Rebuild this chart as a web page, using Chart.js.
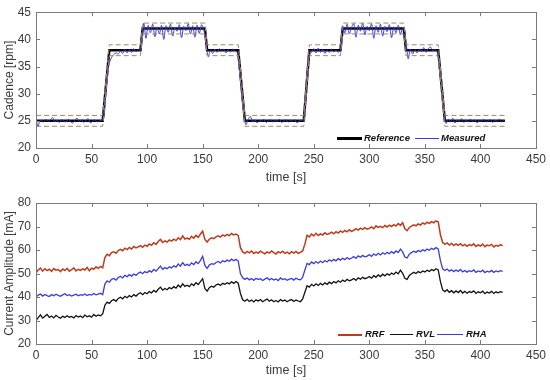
<!DOCTYPE html>
<html>
<head>
<meta charset="utf-8">
<script src="https://cdn.jsdelivr.net/npm/chart.js@4/dist/chart.umd.min.js"></script>
<style>
  html, body { margin: 0; padding: 0; background: #fff; }
  #wrap { position: relative; width: 550px; height: 380px; font-family: "Liberation Sans", Arial, sans-serif; }
  canvas { position: absolute; left: 0; }
  .legend { position: absolute; font: italic bold 9.5px "Liberation Sans", Arial, sans-serif; color: #111; white-space: nowrap; }
  .legend span { position: absolute; top: 0; }
  .legend i { position: absolute; display: block; }
</style>
</head>
<body>
<div id="wrap">
  <canvas id="c1" width="550" height="190" style="top:0"></canvas>
  <canvas id="c2" width="550" height="190" style="top:190px"></canvas>
  <div class="legend" id="leg1" style="left:0; top:132px; width:550px; height:13px;">
    <i style="left:337px; top:5px; width:25px; height:3px; background:#000;"></i>
    <span style="left:364px;">Reference</span>
    <i style="left:415px; top:6px; width:24px; height:1px; background:#3b3bdc;"></i>
    <span style="left:441px;">Measured</span>
  </div>
  <div class="legend" id="leg2" style="left:0; top:328px; width:550px; height:13px;">
    <i style="left:338px; top:6px; width:24px; height:1.5px; background:#c0391b;"></i>
    <span style="left:365px;">RRF</span>
    <i style="left:390px; top:6px; width:23px; height:1px; background:#111;"></i>
    <span style="left:416px;">RVL</span>
    <i style="left:437px; top:6px; width:26px; height:1px; background:#3b3bdc;"></i>
    <span style="left:466px;">RHA</span>
  </div>
</div>
<script>
// ---------- Top chart data (Cadence) ----------
const refTime  = [0, 60, 66, 94, 96, 152, 154, 182, 188, 241, 246, 274, 276, 331, 333, 362, 368, 422];
const refValue = [25, 25, 38, 38, 42, 42, 38, 38, 25, 25, 38, 38, 42, 42, 38, 38, 25, 25];
const bandUpper = [26, 26, 39, 39, 43, 43, 39, 39, 26, 26, 39, 39, 43, 43, 39, 39, 26, 26];
const bandLower = [24, 24, 37, 37, 41, 41, 37, 37, 24, 24, 37, 37, 41, 41, 37, 37, 24, 24];

const measTime = [0,1,2,3,5,7,9,11,13,15,17,19,21,23,25,27,29,31,33,35,37,39,41,43,45,47,49,51,53,55,57,59,61,
  62,63,64,65,66,68,70,72,74,76,78,80,82,84,86,88,90,92,94,95,96,97,98,99,101,103,105,107,109,111,113,115,117,119,
  121,123,125,127,129,131,133,135,137,139,141,143,145,147,149,151,153,155,157,159,161,163,165,167,169,171,173,175,177,179,181,
  183,185,187,189,191,193,195,197,199,201,203,205,207,209,211,213,215,217,219,221,223,225,227,229,231,233,235,237,239,241,
  242,243,244,245,246,248,250,252,254,256,258,260,262,264,266,268,270,272,274,275,276,278,280,282,284,286,288,290,292,294,
  296,298,300,302,304,306,308,310,312,314,316,318,320,322,324,326,328,330,332,333,334,335,337,339,341,343,345,347,349,351,
  353,355,357,359,361,363,365,367,369,371,373,375,377,379,381,383,385,387,389,391,393,395,397,399,401,403,405,407,409,411,
  413,415,417,419,421];
const measValue = [23.6,24.5,23.9,24.8,25.1,24.8,25.3,24.9,25.2,25.6,24.8,25.1,24.7,25.2,25.0,24.8,25.3,24.9,24.6,25.1,25.5,24.9,25.2,24.7,25.1,25.4,24.6,24.9,25.2,24.8,25.0,25.1,25.6,
  27.5,30.5,32.8,34.5,35.6,36.7,37.2,37.5,37.3,37.8,37.4,38.2,37.5,38.1,37.6,38.3,37.7,38.1,38.0,39.5,41.5,43.0,41.5,40.2,42.6,41.2,42.8,40.5,42.3,41.0,42.6,40.0,42.5,41.3,
  42.8,40.6,42.2,41.5,42.7,40.3,42.4,41.6,42.9,41.0,42.5,40.4,42.6,41.1,42.7,41.8,39.5,36.8,38.0,37.4,38.2,37.6,38.3,37.8,38.2,37.5,38.1,37.7,38.2,37.9,37.6,
  34.5,30.0,26.5,24.3,25.3,25.8,24.8,25.2,24.6,25.1,24.9,25.3,24.7,25.0,25.2,24.8,25.1,24.9,25.3,24.7,25.0,25.2,24.8,25.1,24.9,25.2,24.6,25.0,25.1,25.3,
  27.5,31.0,34.0,36.0,37.2,37.6,38.3,37.5,38.4,37.6,38.2,37.4,38.0,37.6,38.2,37.7,38.0,37.6,38.1,40.5,42.5,41.2,42.8,41.0,42.2,42.9,40.4,42.6,41.5,43.0,
  40.8,42.4,41.6,42.9,40.2,42.5,41.3,42.8,40.6,42.4,41.4,42.7,40.3,42.3,41.2,42.6,40.9,42.2,41.5,39.5,37.8,36.4,38.2,37.3,38.1,37.5,38.2,37.8,38.5,37.6,
  38.3,38.6,37.9,38.1,37.7,35.5,31.0,26.8,24.5,25.3,24.8,25.5,24.6,25.2,24.9,25.4,24.7,25.1,24.8,25.3,24.9,25.2,24.6,25.1,24.9,25.3,24.8,25.0,25.2,24.7,
  25.1,24.9,25.3,24.8,25.1];

// ---------- Bottom chart data (Current amplitude), sampled every 2 s from t = 0 ----------
const SAMPLE_STEP = 2;
const rrf = [50.2,51.5,52.3,51.0,52.0,51.2,51.8,50.9,52.1,51.4,51.7,50.8,51.9,51.3,52.2,51.0,51.6,52.4,51.1,51.8,51.3,52.0,51.5,52.6,51.2,52.3,51.8,52.9,52.1,53.0,52.4,
  56.8,58.2,57.6,58.9,59.2,58.6,59.8,60.3,59.7,60.8,60.2,61.1,60.4,61.5,60.9,61.3,61.9,61.2,62.1,61.6,62.6,62.0,63.1,62.4,63.6,64.5,63.2,63.9,63.4,64.3,
  63.8,64.6,64.0,65.2,64.4,66.0,64.7,65.1,64.6,65.8,65.0,66.2,65.4,66.8,68.0,64.5,63.4,64.6,65.2,64.8,65.6,66.0,65.5,66.4,65.9,66.6,66.1,67.0,66.4,66.8,66.2,
  61.0,59.2,58.6,59.4,58.8,59.6,58.5,59.1,58.7,59.5,58.9,58.4,59.2,58.7,59.6,58.9,58.3,59.3,58.8,59.5,58.6,59.1,58.4,59.3,58.7,59.4,58.6,59.0,59.6,
  62.5,66.3,65.6,66.8,66.0,67.1,66.2,66.9,66.4,67.3,66.6,67.0,67.6,66.9,67.8,67.2,68.1,67.5,68.3,67.7,68.6,67.9,68.4,69.1,68.5,69.3,68.8,69.5,68.9,69.2,
  69.8,69.1,70.3,69.6,70.1,69.5,70.4,69.8,70.6,70.0,70.8,70.2,71.3,70.5,71.6,69.0,68.2,69.6,70.2,70.7,70.3,71.1,70.6,71.5,71.0,71.8,71.3,72.1,71.6,72.4,72.0,
  66.5,63.2,62.4,63.0,62.1,62.8,61.9,62.6,62.0,62.7,61.8,62.4,61.6,62.3,61.9,62.6,61.5,62.2,61.7,62.5,61.4,62.1,61.8,62.4,61.3,62.0,61.6,62.3,61.8];
const rvl = [30.0,31.2,32.4,31.0,31.8,32.6,31.3,31.9,31.1,32.2,31.5,31.0,31.8,31.3,32.0,31.4,31.7,31.1,32.1,31.5,31.9,31.2,32.3,31.6,32.0,31.4,32.6,31.8,32.4,32.0,32.8,
  36.5,37.8,37.3,38.4,38.9,38.2,39.4,39.9,39.2,40.3,39.7,40.6,40.0,41.0,40.4,41.3,41.8,41.0,41.9,41.4,42.3,41.7,42.8,42.1,43.3,44.2,42.9,43.6,43.1,44.0,
  43.5,44.4,43.8,45.1,44.2,45.6,44.5,45.0,44.4,45.6,44.9,46.1,45.3,46.5,47.8,43.6,42.5,44.0,44.6,44.2,45.1,45.5,44.9,45.8,45.4,46.1,45.6,46.5,45.8,46.6,45.9,
  41.5,38.8,38.2,39.0,38.1,38.7,37.9,38.8,38.3,38.9,38.0,38.6,39.1,38.2,38.8,38.0,38.5,37.9,38.9,38.3,38.7,38.0,38.6,38.9,38.1,38.7,38.3,38.0,39.2,
  42.0,44.8,44.2,45.4,44.7,45.6,44.9,45.8,45.1,46.0,45.4,46.3,45.7,46.6,46.0,46.9,46.3,47.2,46.6,47.5,46.9,47.3,47.9,47.1,48.2,47.6,48.4,47.8,48.1,48.7,
  48.0,49.1,48.4,49.4,48.7,49.7,49.0,49.9,49.3,50.2,49.6,50.6,49.9,51.4,50.1,48.0,47.5,49.2,49.9,50.5,50.0,50.8,50.3,51.1,50.6,51.4,50.9,51.7,51.2,52.0,51.5,
  46.5,43.0,42.3,43.1,42.0,42.7,41.8,42.6,41.9,42.8,41.7,42.4,41.6,42.3,41.9,42.6,41.5,42.2,41.8,42.5,41.4,42.1,41.7,42.4,41.5,42.2,41.8,42.3,42.0];
const rha = [40.0,40.8,41.3,40.4,41.1,40.6,40.2,41.0,40.5,41.2,40.7,40.3,40.9,41.4,40.6,41.0,40.4,40.8,41.2,40.5,41.0,40.7,41.3,40.6,41.1,40.8,41.5,40.9,41.2,41.6,41.0,
  45.5,46.9,46.3,47.5,47.9,47.2,48.3,48.8,48.1,49.2,48.6,49.5,48.9,49.8,49.2,50.1,50.6,49.9,50.8,50.3,51.2,50.6,51.7,51.0,52.1,53.2,51.8,52.5,52.0,52.9,
  52.4,53.3,52.7,54.0,53.1,54.6,53.4,53.9,53.3,54.5,53.8,55.0,54.2,55.6,57.3,53.4,52.2,53.6,54.2,53.9,54.7,55.1,54.5,55.4,55.0,55.7,55.2,56.1,55.4,56.0,55.3,
  50.0,48.2,47.5,48.1,47.3,47.9,47.1,48.0,47.4,47.8,47.0,47.6,48.2,47.3,47.9,47.2,47.7,47.0,48.1,47.4,47.8,47.1,47.6,47.9,47.2,48.0,47.5,47.3,48.4,
  51.5,54.3,53.8,54.9,54.2,55.1,54.4,55.3,54.6,55.5,54.9,55.8,55.2,56.0,55.4,56.3,55.7,56.5,55.9,56.8,56.1,56.6,57.2,56.4,57.5,56.9,57.7,57.1,57.4,58.0,
  57.3,58.4,57.7,58.6,57.9,58.8,58.2,59.0,58.4,59.3,58.6,59.6,58.9,60.4,59.2,57.0,56.6,58.2,58.9,59.5,59.0,59.8,59.3,60.1,59.6,60.4,59.9,60.7,60.2,61.0,60.5,
  55.5,52.0,51.3,51.9,51.0,51.6,50.8,51.5,50.9,51.7,50.7,51.3,50.6,51.2,50.8,51.5,50.5,51.1,50.7,51.4,50.4,51.0,50.6,51.3,50.5,51.1,50.7,51.2,50.9];

// ---------- Axis ticks ----------
const xTicks = [0, 50, 100, 150, 200, 250, 300, 350, 400, 450];
const yTicksTop = [20, 25, 30, 35, 40, 45];
const yTicksBottom = [20, 30, 40, 50, 60, 70, 80];

const pts = (xs, ys) => ys.map((y, i) => ({ x: xs[i], y }));
const sampled = ys => ys.map((y, i) => ({ x: i * SAMPLE_STEP, y }));

const FONT = "'Liberation Sans', Arial, sans-serif";
const TICK_COLOR = '#3a3a3a';
const BOX_COLOR = '#7a7a7a';

// Draws MATLAB-like box with inward ticks on all four sides.
const boxPlugin = {
  id: 'boxPlugin',
  afterDatasetsDraw(chart) {
    const { ctx, chartArea: a, scales } = chart;
    ctx.save();
    ctx.strokeStyle = BOX_COLOR;
    ctx.lineWidth = 1;
    const L = 4;
    ctx.beginPath();
    scales.x.ticks.forEach(t => {
      const px = Math.round(scales.x.getPixelForValue(t.value)) + 0.5;
      ctx.moveTo(px, a.bottom); ctx.lineTo(px, a.bottom - L);
      ctx.moveTo(px, a.top); ctx.lineTo(px, a.top + L);
    });
    scales.y.ticks.forEach(t => {
      const py = Math.round(scales.y.getPixelForValue(t.value)) + 0.5;
      ctx.moveTo(a.left, py); ctx.lineTo(a.left + L, py);
      ctx.moveTo(a.right, py); ctx.lineTo(a.right - L, py);
    });
    ctx.stroke();
    ctx.strokeRect(Math.round(a.left) + 0.5, Math.round(a.top) + 0.5,
                   Math.round(a.right - a.left), Math.round(a.bottom - a.top));
    ctx.restore();
  }
};

function makeOptions(yMin, yMax, yTicks, yTitle, pad, xAxisHeight, titlePadBottom) {
  return {
    responsive: false,
    animation: false,
    layout: { padding: pad },
    plugins: { legend: { display: false }, tooltip: { enabled: false } },
    elements: { point: { radius: 0 } },
    scales: {
      x: {
        type: 'linear', min: 0, max: 450,
        afterBuildTicks: s => { s.ticks = xTicks.map(v => ({ value: v })); },
        afterFit: s => { s.height = xAxisHeight; },
        grid: { display: false, drawTicks: false },
        border: { display: false },
        ticks: { color: TICK_COLOR, font: { family: FONT, size: 12 }, padding: 4, maxRotation: 0 },
        title: { display: true, text: 'time [s]', color: TICK_COLOR, font: { family: FONT, size: 12.5 },
                 padding: { top: 0, bottom: titlePadBottom } }
      },
      y: {
        type: 'linear', min: yMin, max: yMax,
        afterBuildTicks: s => { s.ticks = yTicks.map(v => ({ value: v })); },
        afterFit: s => { s.width = 34; },
        grid: { display: false, drawTicks: false },
        border: { display: false },
        ticks: { color: TICK_COLOR, font: { family: FONT, size: 12 }, padding: 5 },
        title: { display: true, text: yTitle, color: TICK_COLOR, font: { family: FONT, size: 12 },
                 padding: { top: 0, bottom: 0 } }
      }
    }
  };
}

new Chart(document.getElementById('c1'), {
  type: 'line',
  data: {
    datasets: [
      { data: pts(refTime, bandUpper), borderColor: '#a6876a', borderWidth: 1, borderDash: [5, 3], tension: 0 },
      { data: pts(refTime, bandLower), borderColor: '#a6876a', borderWidth: 1, borderDash: [5, 3], tension: 0 },
      { data: pts(measTime, measValue), borderColor: '#3b3bdc', borderWidth: 1, tension: 0.3 },
      { data: pts(refTime, refValue), borderColor: '#000000', borderWidth: 2.5, tension: 0 }
    ]
  },
  options: makeOptions(20, 45, yTicksTop, 'Cadence [rpm]', { top: 8, right: 12, left: 2, bottom: 0 }, 42, 5),
  plugins: [boxPlugin]
});

new Chart(document.getElementById('c2'), {
  type: 'line',
  data: {
    datasets: [
      { data: sampled(rvl), borderColor: '#111111', borderWidth: 1.3, tension: 0 },
      { data: sampled(rha), borderColor: '#3b3bdc', borderWidth: 1.3, tension: 0 },
      { data: sampled(rrf), borderColor: '#c0391b', borderWidth: 1.5, tension: 0 }
    ]
  },
  options: makeOptions(20, 80, yTicksBottom, 'Current Amplitude [mA]', { top: 13, right: 12, left: 2, bottom: 0 }, 36, 2),
  plugins: [boxPlugin]
});
</script>
</body>
</html>
